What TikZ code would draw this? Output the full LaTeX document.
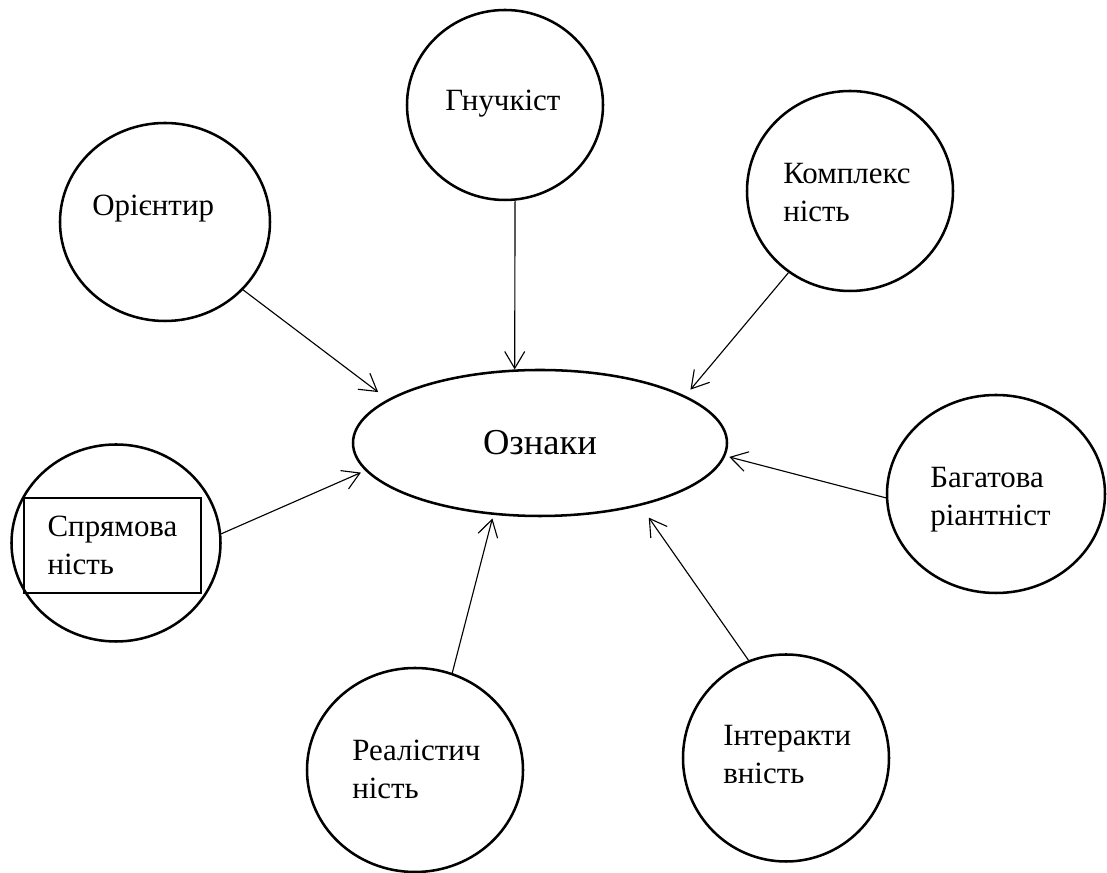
\documentclass[tikz,border=0pt]{standalone}
\usepackage{fontspec}
\setmainfont{Liberation Serif}
\usetikzlibrary{shapes.geometric, arrows.meta}

\begin{document}
\begin{tikzpicture}[
    feat/.style 2 args={ellipse, draw, line width=1.8pt, inner sep=0pt, minimum width=#1, minimum height=#2},
    featxt/.style={anchor=north west, inner sep=0pt, align=left, font=\fontsize{22}{27}\selectfont},
    link/.style={line width=0.8pt, -{Straight Barb[length=4.2mm, width=5mm]}}
  ]
  \useasboundingbox (0,0) rectangle (27.675,21.825);
  %centre
  \node [feat={9.35cm}{3.65cm}, font=\fontsize{26}{31}\selectfont] (oznaky) at (13.5, 10.75) {Ознаки};
  %outer circles
  \node [feat={5.25cm}{4.95cm}] (orient) at (4.125, 16.275) {};
  \node [feat={4.9cm}{4.75cm}] (gnuch) at (12.625, 19.2) {};
  \node [feat={5.15cm}{5cm}] (kompl) at (21.25, 17.05) {};
  \node [feat={5.45cm}{4.95cm}] (bagat) at (24.9, 9.475) {};
  \node [feat={5.225cm}{4.925cm}] (spriam) at (2.9, 8.25) {};
  \node [feat={5.4cm}{5.1cm}] (real) at (10.375, 2.575) {};
  \node [feat={5.15cm}{5.175cm}] (inter) at (19.65, 2.875) {};
  %texts
  \node [featxt] (orient-t) at (2.3, 16.95) {Орієнтир};
  \node [featxt] (gnuch-t) at (11.125, 19.575) {Гнучкіст};
  \node [featxt] (kompl-t) at (19.575, 17.75) {Комплекс\\ність};
  \node [featxt] (bagat-t) at (23.25, 10.15) {Багатова\\ріантніст};
  \node [featxt, anchor=center, draw, line width=1.8pt, minimum width=4.425cm, minimum height=2.375cm] (spriam-t) at (2.8125, 8.1875) {Спрямова\\ність};
  \node [featxt] (real-t) at (8.8, 3.325) {Реалістич\\ність};
  \node [featxt] (inter-t) at (18.075, 3.7) {Інтеракти\\вність};
  %arrows
  \draw [link, shorten >=3mm] (orient.-41.5) -- (oznaky.164.8);
  \draw [link] (gnuch.-84.5) -- (oznaky.109.8);
  \draw [link, shorten >=2mm] (kompl.-127.6) -- (oznaky.18.6);
  \draw [link, shorten >=1mm] (bagat.-178.4) -- (oznaky.-4);
  \draw [link, shorten >=1.2mm] (spriam.5.4) -- (oznaky.-171.1);
  \draw [link, shorten >=0.9mm] (real.69.1) -- (oznaky.-123.1);
  \draw [link, shorten >=3.6mm] (inter.111) -- (oznaky.-32.6);
\end{tikzpicture}
\end{document}
